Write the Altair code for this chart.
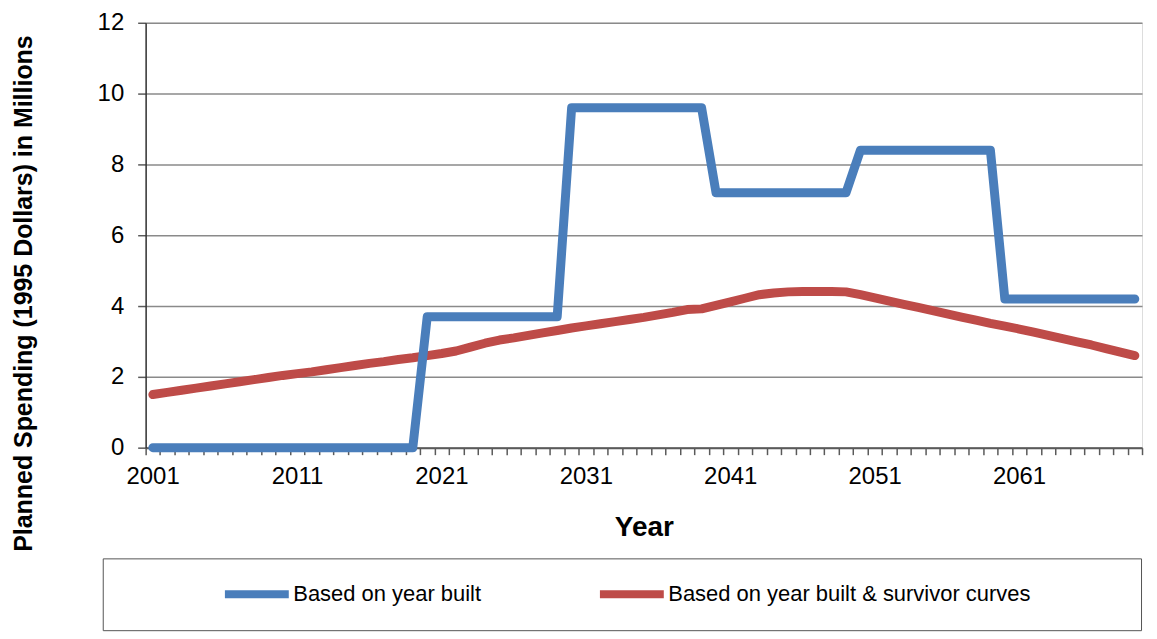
import altair as alt
import pandas as pd

# ---- data ----
years = [
    2001, 2002, 2003, 2004, 2005, 2006, 2007, 2008, 2009, 2010,
    2011, 2012, 2013, 2014, 2015, 2016, 2017, 2018, 2019, 2020,
    2021, 2022, 2023, 2024, 2025, 2026, 2027, 2028, 2029, 2030,
    2031, 2032, 2033, 2034, 2035, 2036, 2037, 2038, 2039, 2040,
    2041, 2042, 2043, 2044, 2045, 2046, 2047, 2048, 2049, 2050,
    2051, 2052, 2053, 2054, 2055, 2056, 2057, 2058, 2059, 2060,
    2061, 2062, 2063, 2064, 2065, 2066, 2067, 2068, 2069,
]

series_names = ["Based on year built", "Based on year built & survivor curves"]
series_colors = ["#4A7EBB", "#BE4B48"]

year_built = [
    0, 0, 0, 0, 0, 0, 0, 0, 0, 0,
    0, 0, 0, 0, 0, 0, 0, 0, 0, 3.7,
    3.7, 3.7, 3.7, 3.7, 3.7, 3.7, 3.7, 3.7, 3.7, 9.6,
    9.6, 9.6, 9.6, 9.6, 9.6, 9.6, 9.6, 9.6, 9.6, 7.2,
    7.2, 7.2, 7.2, 7.2, 7.2, 7.2, 7.2, 7.2, 7.2, 8.4,
    8.4, 8.4, 8.4, 8.4, 8.4, 8.4, 8.4, 8.4, 8.4, 4.2,
    4.2, 4.2, 4.2, 4.2, 4.2, 4.2, 4.2, 4.2, 4.2,
]

survivor = [
    1.50, 1.56, 1.62, 1.68, 1.74, 1.80, 1.86, 1.92, 1.98, 2.04,
    2.09, 2.14, 2.20, 2.26, 2.32, 2.38, 2.43, 2.49, 2.54, 2.60,
    2.66, 2.73, 2.84, 2.95, 3.04, 3.10, 3.17, 3.24, 3.31, 3.38,
    3.44, 3.50, 3.56, 3.62, 3.68, 3.75, 3.82, 3.90, 3.92, 4.02,
    4.12, 4.22, 4.32, 4.37, 4.40, 4.41, 4.41, 4.41, 4.40, 4.32,
    4.23, 4.14, 4.05, 3.96, 3.87, 3.78, 3.69, 3.60, 3.51, 3.43,
    3.35, 3.26, 3.17, 3.08, 2.99, 2.90, 2.80, 2.70, 2.60,
]

x_tick_labels = [2001, 2011, 2021, 2031, 2041, 2051, 2061]
y_ticks = [0, 2, 4, 6, 8, 10, 12]

x_title = "Year"
y_title = "Planned Spending (1995 Dollars) in Millions"

# ---- table ----
rows = []
for y, v in zip(years, survivor):
    rows.append({"year": y, "value": v, "series": series_names[1], "order": 0})
for y, v in zip(years, year_built):
    rows.append({"year": y, "value": v, "series": series_names[0], "order": 1})
df = pd.DataFrame(rows)

# category boundaries for the tick marks (Excel-style category axis)
tick_bounds = [y - 0.5 for y in years] + [years[-1] + 0.5]
label_list = "[" + ",".join(str(v) for v in x_tick_labels) + "]"
label_expr = (
    f"indexof({label_list}, datum.value + 0.5) >= 0 ? "
    f"format(datum.value + 0.5, 'd') : ''"
)

FONT = "Liberation Sans"
GRID = "#8A8A8A"
AXIS = "#5A5A5A"

chart = (
    alt.Chart(df)
    .mark_line(strokeWidth=9, strokeCap="round", strokeJoin="round")
    .encode(
        x=alt.X(
            "year:Q",
            scale=alt.Scale(domain=[tick_bounds[0], tick_bounds[-1]], nice=False, zero=False),
            axis=alt.Axis(
                values=tick_bounds,
                labelExpr=label_expr,
                title=x_title,
                grid=False,
                tickSize=7,
                tickColor=AXIS,
                tickWidth=1.5,
                domainColor=AXIS,
                domainWidth=2,
                labelFlush=False,
                labelOverlap=False,
                labelBound=False,
                labelOffset=7,
                labelPadding=10,
                labelFont=FONT,
                labelFontSize=24,
                labelColor="#000000",
                titleFont=FONT,
                titleFontSize=28,
                titleFontWeight="bold",
                titleColor="#000000",
                titlePadding=25,
            ),
        ),
        y=alt.Y(
            "value:Q",
            scale=alt.Scale(domain=[0, 12], nice=False),
            axis=alt.Axis(
                values=y_ticks,
                title=y_title,
                grid=True,
                gridColor=GRID,
                gridWidth=1.5,
                tickSize=8,
                tickColor=AXIS,
                tickWidth=1.5,
                domainColor="#333333",
                domainWidth=1.5,
                labelPadding=14,
                labelFont=FONT,
                labelFontSize=24,
                labelColor="#000000",
                titleFont=FONT,
                titleFontSize=25,
                titleFontWeight="bold",
                titleColor="#000000",
                titlePadding=61,
                titleY=271,
            ),
        ),
        color=alt.Color(
            "series:N",
            scale=alt.Scale(domain=series_names, range=series_colors),
            legend=alt.Legend(
                title="\u00a0",
                titleOrient="right",
                titlePadding=86,
                titleFontSize=10,
                orient="none",
                legendX=-43,
                legendY=537,
                direction="horizontal",
                symbolType="stroke",
                symbolSize=4100,
                symbolStrokeWidth=8,
                symbolOffset=93,
                clipHeight=22,
                labelFont=FONT,
                labelFontSize=22,
                labelColor="#000000",
                labelOffset=0,
                labelLimit=600,
                columnPadding=21,
                padding=25,
                strokeColor="#555555",
                fillColor="#FFFFFF",
            ),
        ),
        order=alt.Order("order:Q"),
    )
    .properties(
        width=999,
        height=426,
        padding={"left": 3, "top": 2, "right": 0, "bottom": 0},
    )
    .configure_view(stroke="#595959", strokeWidth=2)
    .configure(background="#FFFFFF")
)

chart.save("out.html", embed_options={"renderer": "svg", "actions": False})
